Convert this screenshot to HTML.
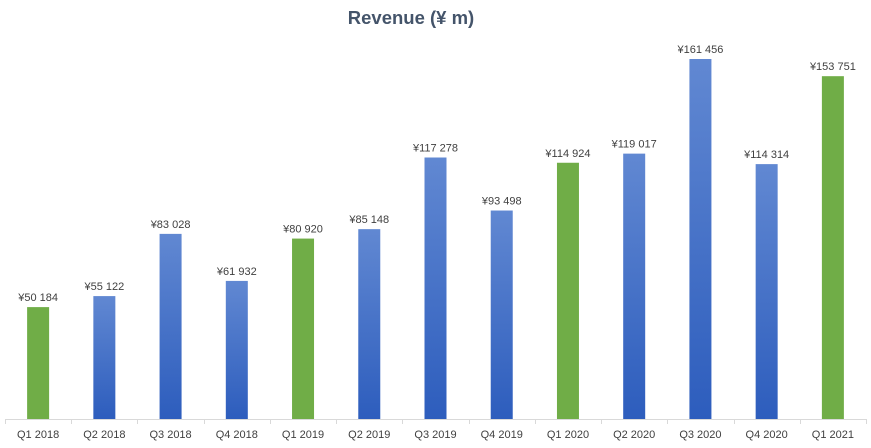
<!DOCTYPE html>
<html><head><meta charset="utf-8"><style>
html,body{margin:0;padding:0;background:#fff;}
svg{display:block;font-family:"Liberation Sans",sans-serif;}
</style></head><body>
<svg width="871" height="448" viewBox="0 0 871 448" xmlns="http://www.w3.org/2000/svg">
<defs>
<linearGradient id="b" x1="0" y1="0" x2="0" y2="1">
<stop offset="0" stop-color="#6188d2"/>
<stop offset="1" stop-color="#2d5dbd"/>
</linearGradient>
</defs>
<text x="411" y="24" text-anchor="middle" font-size="18.5" font-weight="bold" fill="#44546a">Revenue (¥ m)</text>
<line x1="5" y1="419.5" x2="866" y2="419.5" stroke="#d9d9d9" stroke-width="1"/>
<g id="bars"></g>
</svg>
<script>
var d=[["Q1 2018",50184,"¥50 184",1],["Q2 2018",55122,"¥55 122",0],["Q3 2018",83028,"¥83 028",0],["Q4 2018",61932,"¥61 932",0],["Q1 2019",80920,"¥80 920",1],["Q2 2019",85148,"¥85 148",0],["Q3 2019",117278,"¥117 278",0],["Q4 2019",93498,"¥93 498",0],["Q1 2020",114924,"¥114 924",1],["Q2 2020",119017,"¥119 017",0],["Q3 2020",161456,"¥161 456",0],["Q4 2020",114314,"¥114 314",0],["Q1 2021",153751,"¥153 751",1]];
var g=document.getElementById("bars"),s="",w=(866-5)/13;
for(var i=0;i<=13;i++){var x=Math.round(5+i*w)+0.5;s+='<line x1="'+x+'" y1="419" x2="'+x+'" y2="424" stroke="#d9d9d9"/>';}
d.forEach(function(r,i){var c=5+w*(i+0.5),h=r[1]*0.0022297,t=419-h;
s+='<rect x="'+(c-11)+'" y="'+t+'" width="22" height="'+h+'" fill="'+(r[3]?'#70ad47':'url(#b)')+'"/>';
s+='<text x="'+c+'" y="'+(t-6)+'" text-anchor="middle" font-size="11" fill="#404040">'+r[2]+'</text>';
s+='<text x="'+c+'" y="438" text-anchor="middle" font-size="11" fill="#404040">'+r[0]+'</text>';});
g.innerHTML=s;
</script>
</body></html>
